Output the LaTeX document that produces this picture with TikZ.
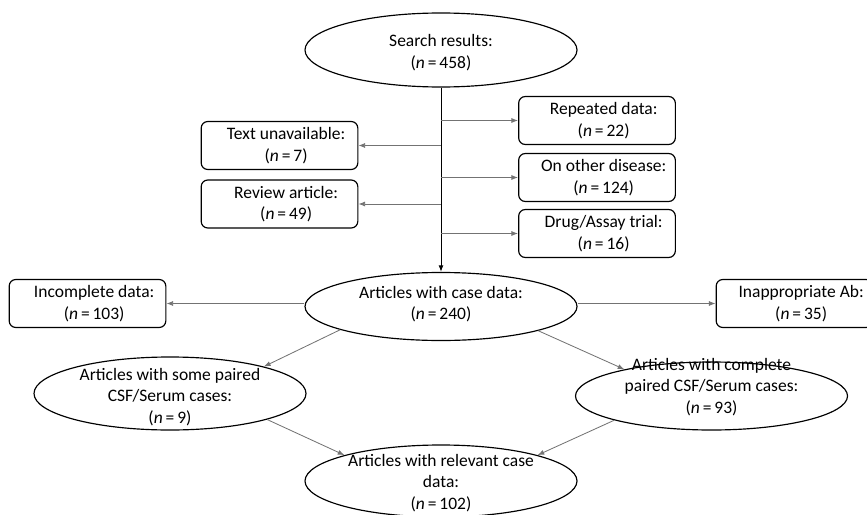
\documentclass[tikz,border=0pt]{standalone}
\usepackage{fontspec}
\setmainfont{Carlito}
\usepackage{tikz}
\usetikzlibrary{shapes.geometric,arrows.meta}
\newcommand{\nval}[1]{(\textit{n}\,=\,#1)}
\tikzset{
	flowell/.style={draw, ellipse, inner sep=0pt, minimum width=163.2pt, line width=0.7pt},
	flowbox/.style={draw, rectangle, rounded corners=4pt, inner sep=0pt, minimum width=94pt, minimum height=28.8pt, line width=0.7pt},
	flowtxt/.style={align=center, font=\fontsize{10.5}{12.8}\selectfont},
	mainarr/.style={-{Latex[length=4pt,width=3pt]}, line width=0.6pt},
	sidearr/.style={-{Latex[length=4pt,width=3pt]}, draw=black!55, line width=0.5pt}
}

\begin{document}
\begin{tikzpicture}[x=0.6pt, y=-0.6pt]
			%%%%% START %%%%%
			\useasboundingbox (0, 0) rectangle (867, 514);
			
			\node[flowell, minimum height=44.4pt, label={[flowtxt, yshift=-1.5pt]center:{Search results:\\\nval{458}}}] (search) at (441, 50) {};
			\node[flowell, minimum height=40.8pt, label={[flowtxt, yshift=1.5pt]center:{Articles with case data:\\\nval{240}}}] (cases) at (441, 306.5) {};
			\node[flowell, minimum height=43.8pt, label={[flowtxt, yshift=-2pt]center:{Articles with some paired\\CSF/Serum cases:\\\nval{9}}}] (somepair) at (170, 393.5) {};
			\node[flowell, minimum height=40.8pt, label={[flowtxt, yshift=5.5pt]center:{Articles with complete\\paired CSF/Serum cases:\\\nval{93}}}] (fullpair) at (711.5, 396) {};
			\node[flowell, minimum height=43.2pt, label={[flowtxt, yshift=-1.2pt]center:{Articles with relevant case\\data:\\\nval{102}}}] (relevant) at (441, 481) {};
			
			\node[flowbox, label={[flowtxt, xshift=4pt]center:{Text unavailable:\\\nval{7}}}] (notext) at (279.5, 145.5) {};
			\node[flowbox, label={[flowtxt, xshift=4pt]center:{Review article:\\\nval{49}}}] (review) at (279.5, 204) {};
			\node[flowbox, label={[flowtxt, xshift=4pt]center:{Repeated data:\\\nval{22}}}] (repeated) at (597, 120.5) {};
			\node[flowbox, label={[flowtxt, xshift=4pt]center:{On other disease:\\\nval{124}}}] (otherdis) at (597, 177.5) {};
			\node[flowbox, label={[flowtxt, xshift=4pt]center:{Drug/Assay trial:\\\nval{16}}}] (drugtrial) at (597, 233.5) {};
			\node[flowbox, label={[flowtxt, xshift=4pt]center:{Incomplete data:\\\nval{103}}}] (incomplete) at (87.5, 303.5) {};
			\node[flowbox, label={[flowtxt, xshift=4pt]center:{Inappropriate Ab:\\\nval{35}}}] (badab) at (794.5, 303.5) {};
			
			\draw[mainarr] (search) -- (cases);
			
			\draw[sidearr] (search.south |- notext.east) -- (notext.east);
			\draw[sidearr] (search.south |- review.east) -- (review.east);
			\draw[sidearr] (search.south |- repeated.west) -- (repeated.west);
			\draw[sidearr] (search.south |- otherdis.west) -- (otherdis.west);
			\draw[sidearr] (search.south |- drugtrial.west) -- (drugtrial.west);
			
			\draw[sidearr] (cases.west |- incomplete.east) -- (incomplete.east);
			\draw[sidearr] (cases.east |- badab.west) -- (badab.west);
			
			\draw[sidearr] (cases.193) -- (somepair.16);
			\draw[sidearr] (cases.346) -- (fullpair.163);
			\draw[sidearr] (somepair.345) -- (relevant.165);
			\draw[sidearr] (fullpair.194) -- (relevant.15);
			
			%%%%% END %%%%%
\end{tikzpicture}
\end{document}
